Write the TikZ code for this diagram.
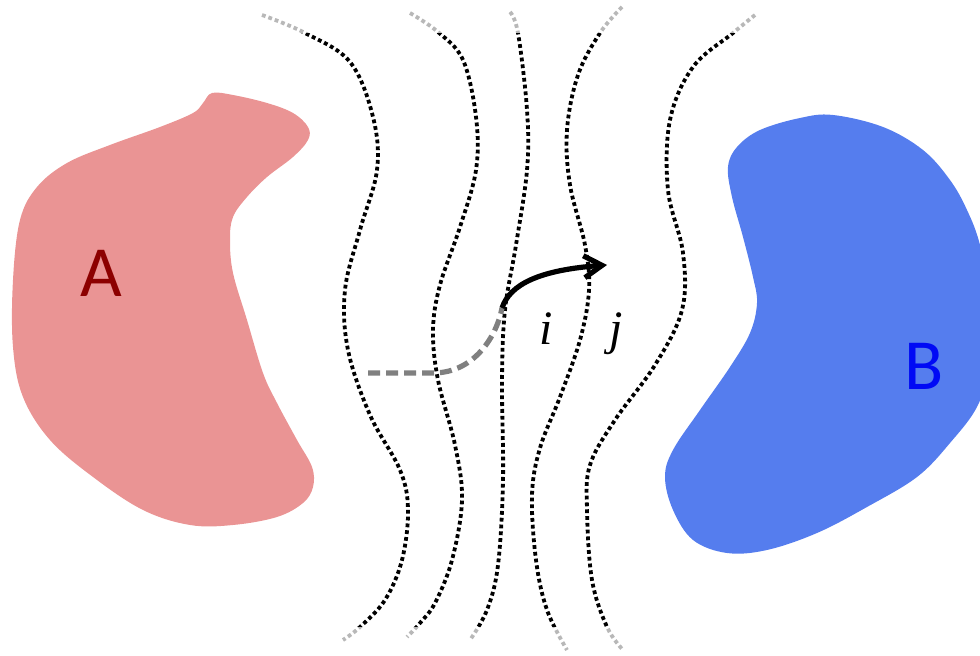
\documentclass[tikz,border=0pt]{standalone}
\usepackage{fontspec}
\setmainfont{Liberation Serif}
\newfontfamily\labfont{Carlito}
\usetikzlibrary{arrows.meta}
\definecolor{blobA}{RGB}{234,148,148}
\definecolor{blobB}{RGB}{85,125,238}
\definecolor{txtA}{RGB}{140,0,0}
\definecolor{txtB}{RGB}{0,10,245}
\definecolor{dashgray}{RGB}{128,128,128}
\tikzset{
  fieldline/.style={line width=1.9pt, dash pattern=on 1.9pt off 1.5pt, black},
  bigletter/.style={font=\labfont\fontsize{36}{36}\selectfont, inner sep=0pt, anchor=base},
  idx/.style={font=\itshape\fontsize{24}{24}\selectfont, inner sep=0pt, anchor=base},
  pastpath/.style={line width=2.6pt, dashgray, dash pattern=on 6pt off 3pt},
  stepArrow/.style={line width=2.6pt, black, -{Straight Barb[length=9pt,width=11pt]}},
  fadeband/.style={fill=white, opacity=0.72, draw=none}
}
\begin{document}
\begin{tikzpicture}[x=0.5pt,y=-0.5pt]
\useasboundingbox (0,0) rectangle (980,656);
\clip (0,0) rectangle (980,656);
% blob A
\fill[blobA] plot[smooth cycle, tension=0.6] coordinates {
 (212,93) (233,95) (267,103) (293,113) (308,127) (308,140) (293,157) (267,177)
 (247,197) (233,217) (230,240) (233,273) (247,320) (263,373) (277,403) (297,440)
 (312,467) (313,487) (303,503) (277,517) (233,525) (190,525) (143,510) (93,477)
 (50,440) (23,397) (13,347) (13,280) (20,220) (37,187) (67,163) (110,145)
 (160,127) (193,113) (203,103)};
% blob B
\fill[blobB] plot[smooth cycle, tension=0.6] coordinates {
 (728,167) (737,147) (760,130) (800,118) (833,115) (883,127) (923,150) (950,180)
 (967,210) (980,245) (990,300) (990,360) (978,405) (950,443) (917,477) (867,507)
 (817,533) (767,550) (727,553) (693,540) (673,510) (665,477) (673,450) (700,410)
 (730,367) (750,333) (757,303) (753,277) (743,237) (732,197)};
% field lines
\draw[fieldline] plot[smooth, tension=0.6] coordinates {
 (262,15) (305,33) (350,62) (373,117) (377,170) (360,230) (345,290) (348,350)
 (370,415) (400,470) (408,510) (402,560) (385,600) (360,627) (343,640)};
\draw[fieldline] plot[smooth, tension=0.6] coordinates {
 (410,13) (438,32) (463,60) (476,117) (476,170) (460,227) (440,285) (433,330)
 (438,380) (455,445) (462,500) (452,560) (435,603) (420,623) (407,637)};
\draw[fieldline] plot[smooth, tension=0.6] coordinates {
 (510,12) (518,33) (527,110) (527,170) (516,245) (505,310) (502,380)
 (503,480) (498,565) (487,610) (470,640)};
\draw[fieldline] plot[smooth, tension=0.6] coordinates {
 (622,7) (600,33) (578,75) (567,130) (570,185) (585,245) (589,290) (580,340)
 (560,397) (540,448) (532,495) (536,560) (547,610) (567,650)};
\draw[fieldline] plot[smooth, tension=0.6] coordinates {
 (755,15) (733,33) (693,67) (670,120) (668,190) (683,253) (682,310) (655,365)
 (615,420) (590,465) (587,510) (592,580) (607,627) (623,650)};
% fading bands at the ends
\fill[fadeband] (0,0) rectangle (980,33);
\fill[fadeband] (0,627) rectangle (980,656);
% path and step
\coordinate (d0) at (368,373);
\coordinate (d1) at (433,373);
\coordinate (s) at (502,308);
\coordinate (t) at (607,265);
\draw[pastpath] (d0) -- (d1) .. controls (475,373) and (497,335) .. (s);
\draw[stepArrow] (s) .. controls (510,284) and (540,270) .. (t);
% labels
\node[idx] (li) at (546,345) {i};
\node[idx] (lj) at (616,345) {j};
\node[bigletter, text=txtA] (la) at (101,297) {A};
\node[bigletter, text=txtB] (lb) at (924,390) {B};
\end{tikzpicture}
\end{document}
